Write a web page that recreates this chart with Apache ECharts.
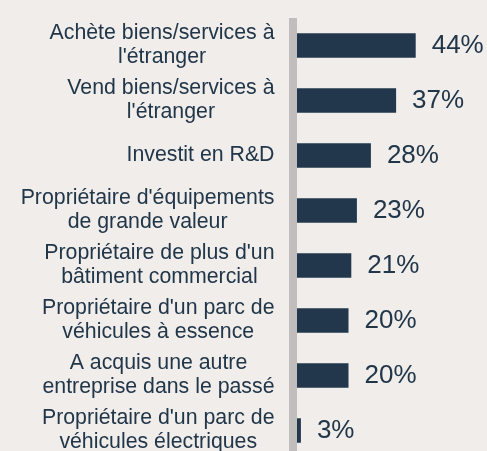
<!DOCTYPE html>
<html>
<head>
<meta charset="utf-8">
<script src="https://cdn.jsdelivr.net/npm/echarts@6/dist/echarts.min.js"></script>
<style>
html,body{margin:0;padding:0;background:#f0edea;}
#c{width:487px;height:451px;}
</style>
</head>
<body>
<div id="c"></div>
<script>
const categories = [
  "Achète biens/services à\nl'étranger",
  "Vend biens/services à\nl'étranger",
  "Investit en R&D",
  "Propriétaire d'équipements\nde grande valeur",
  "Propriétaire de plus d'un\nbâtiment commercial",
  "Propriétaire d'un parc de\nvéhicules à essence",
  "A acquis une autre\nentreprise dans le passé",
  "Propriétaire d'un parc de\nvéhicules électriques"
];
const values = [44, 37, 28, 23, 21, 20, 20, 3];

const textColor = '#213649';
const chart = echarts.init(document.getElementById('c'), null, {renderer: 'canvas'});
chart.setOption({
  backgroundColor: '#f0edea',
  animation: false,
  grid: {left: 292.5, top: 18, width: 168, bottom: -7, containLabel: false, outerBoundsMode: 'none'},
  xAxis: {
    type: 'value', min: 0, max: 60, show: false
  },
  yAxis: {
    type: 'category',
    data: categories,
    inverse: true,
    axisLine: {show: true, lineStyle: {color: '#c0bebc', width: 8, cap: 'butt'}},
    axisTick: {show: false},
    splitLine: {show: false},
    axisLabel: {
      interval: 0,
      margin: 18,
      fontFamily: '"Liberation Sans", Arial, sans-serif',
      fontSize: 21.3,
      lineHeight: 24,
      color: textColor,
      formatter: function (v) {
        return v.split('\n').map(function (l) { return '{c|' + l + '}'; }).join('\n');
      },
      rich: {
        c: {align: 'center', fontSize: 21.3, lineHeight: 24, color: textColor,
            fontFamily: '"Liberation Sans", Arial, sans-serif'}
      }
    },
    z: 5
  },
  series: [{
    type: 'bar',
    data: values,
    barWidth: 24.5,
    itemStyle: {color: '#22374c'},
    z: 2,
    label: {
      show: true,
      position: 'right',
      distance: 16,
      formatter: '{c}%',
      fontFamily: '"Liberation Sans", Arial, sans-serif',
      fontSize: 26,
      color: textColor
    }
  }]
});
</script>
</body>
</html>
